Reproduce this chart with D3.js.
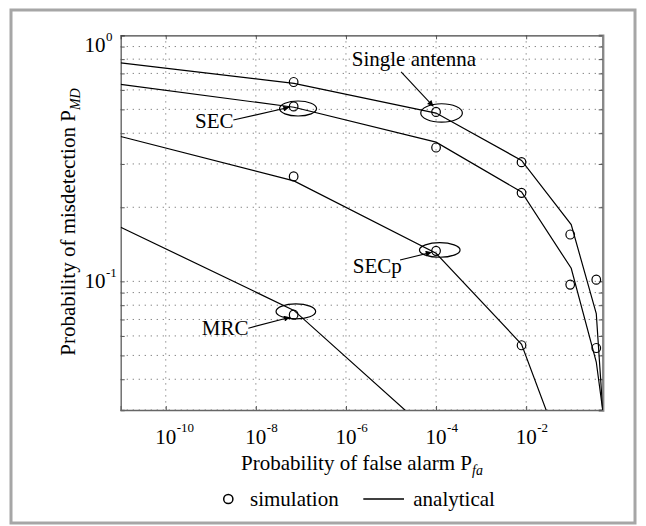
<!DOCTYPE html>
<html><head><meta charset="utf-8">
<script src="https://cdn.jsdelivr.net/npm/d3@7"></script>
<style>
html,body{margin:0;padding:0;background:#fff;}
svg text{font-family:"Liberation Serif","Times New Roman",Times,serif;fill:#000;}
</style></head>
<body><svg id="chart" width="646" height="526" font-family="Liberation Serif, Times New Roman, serif"></svg>
<script>
// ---- data ----
const simX = [6.9e-8, 1e-4, 7.9e-3, 0.095, 0.36];
const singleSimY = [0.646, 0.488, 0.305, 0.155, 0.1016];
const secSimY = [0.514, 0.35, 0.229, 0.097, 0.0536];
const secpSimY = [0.267, 0.133, 0.055];
const mrcSimY = [0.0732];

const anaX = [1e-11, 7e-8, 1e-4, 7.9e-3, 0.1, 0.36, 0.5];
const singleAnaY = [0.772, 0.638, 0.483, 0.310, 0.170, 0.074, 0.03];
const secAnaY = [0.632, 0.510, 0.368, 0.2307, 0.113, 0.047, 0.03];
const secpAnaY = [0.388, 0.256, 0.130, 0.0555, 0.016];
const mrcAnaY = [0.166, 0.0762, 0.0231];

const xTickExps = [-10, -8, -6, -4, -2];
const yTickExps = [0, -1];
const yMinor = [0.03,0.04,0.05,0.06,0.07,0.08,0.09,0.1,0.2,0.3,0.4,0.5,0.6,0.7,0.8,0.9,1];

const seriesNames = ["Single antenna", "SEC", "SECp", "MRC"];
const xLabel = "Probability of false alarm P";
const xLabelSub = "fa";
const yLabel = "Probability of misdetection P";
const yLabelSub = "MD";
const legendSim = "simulation";
const legendAna = "analytical";

// ---- layout ----
const FONT = "Liberation Serif, Times New Roman, serif";
const svg = d3.select("#chart");
const L = 120.7, R = 602.7, T = 35.3, B = 410;
const x = d3.scaleLog().domain([1e-11, 0.5]).range([L, R]);
const y = d3.scaleLog().domain([0.03, 1]).range([B, T]);

function txt(sel) { return sel.attr("font-family", FONT).attr("fill", "#000"); }

// outer frame
svg.append("rect").attr("x", 11).attr("y", 10).attr("width", 624).attr("height", 513)
  .attr("fill", "#fff").attr("stroke", "#a6a6a6").attr("stroke-width", 3);

// clip
svg.append("clipPath").attr("id", "clip").append("rect")
  .attr("x", L).attr("y", T).attr("width", R - L).attr("height", B - T);

// grid
const grid = svg.append("g").attr("stroke", "#777").attr("stroke-width", 1)
  .attr("stroke-dasharray", "1.2,4.8");
yMinor.filter(v => v < 1).forEach(v => {
  grid.append("line").attr("x1", L).attr("x2", R).attr("y1", y(v)).attr("y2", y(v));
});
xTickExps.forEach(e => {
  const v = Math.pow(10, e);
  grid.append("line").attr("x1", x(v)).attr("x2", x(v)).attr("y1", T).attr("y2", B);
});

// axes via d3 axes (inward ticks)
const axL = d3.axisLeft(y).tickValues(yMinor).tickSize(-4).tickFormat("");
const axR = d3.axisRight(y).tickValues(yMinor).tickSize(-4).tickFormat("");
const xVals = xTickExps.map(e => Math.pow(10, e));
const axB = d3.axisBottom(x).tickValues(xVals).tickSize(-4).tickFormat("");
const axT = d3.axisTop(x).tickValues(xVals).tickSize(-4).tickFormat("");
function styleAxis(g, col, w) {
  g.selectAll("path").attr("stroke", col).attr("stroke-width", w);
  g.selectAll("line").attr("stroke", "#555").attr("stroke-width", 1);
}
svg.append("g").attr("transform", `translate(${L},0)`).call(axL).call(g => styleAxis(g, "#666", 1.4));
svg.append("g").attr("transform", `translate(0,${B})`).call(axB).call(g => styleAxis(g, "#666", 1.4));
svg.append("g").attr("transform", `translate(0,${T})`).call(axT).call(g => styleAxis(g, "#444", 1.2));
svg.append("g").attr("transform", `translate(${R},0)`).call(axR).call(g => styleAxis(g, "#888", 2.4));

// tick labels
xTickExps.forEach(e => {
  const px = x(Math.pow(10, e));
  txt(svg.append("text")).attr("x", px).attr("y", 443.5).attr("text-anchor", "middle")
    .attr("font-size", 21).text("10");
  txt(svg.append("text")).attr("x", px + 11).attr("y", 431.5).attr("font-size", 13).text(String(e));
});
yTickExps.forEach(e => {
  const py = Math.max(y(Math.pow(10, e)), 45) + 7;
  txt(svg.append("text")).attr("x", 105.5).attr("y", py).attr("text-anchor", "end")
    .attr("font-size", 21).text("10");
  txt(svg.append("text")).attr("x", 106).attr("y", py - 11).attr("font-size", 13).text(String(e));
});

// axis labels
const xl = txt(svg.append("text")).attr("x", 362).attr("y", 470).attr("text-anchor", "middle")
  .attr("font-size", 21);
xl.append("tspan").text(xLabel);
xl.append("tspan").attr("font-size", 14).attr("font-style", "italic").attr("dy", 5).text(xLabelSub);

const yl = txt(svg.append("text")).attr("transform", "translate(74.5,222) rotate(-90)")
  .attr("text-anchor", "middle").attr("font-size", 21);
yl.append("tspan").text(yLabel);
yl.append("tspan").attr("font-size", 14).attr("font-style", "italic").attr("dy", 5).text(yLabelSub);

// analytical lines
const line = d3.line().x(d => x(d[0])).y(d => y(d[1]));
const plot = svg.append("g").attr("clip-path", "url(#clip)");
[singleAnaY, secAnaY, secpAnaY, mrcAnaY].forEach(arr => {
  const pts = arr.map((v, i) => [anaX[i], v]);
  plot.append("path").attr("d", line(pts)).attr("fill", "none")
    .attr("stroke", "#000").attr("stroke-width", 1.2);
});

// simulation points
[singleSimY, secSimY, secpSimY, mrcSimY].forEach(arr => {
  arr.forEach((v, i) => {
    plot.append("ellipse").attr("cx", x(simX[i])).attr("cy", y(v))
      .attr("rx", 4.3).attr("ry", 4.5).attr("fill", "none")
      .attr("stroke", "#000").attr("stroke-width", 1.2);
  });
});

// annotations (anchored to simulation points, offsets in px)
const defs = svg.append("defs");
defs.append("marker").attr("id", "ah").attr("viewBox", "0 0 10 10").attr("refX", 10).attr("refY", 5)
  .attr("markerWidth", 8).attr("markerHeight", 6).attr("markerUnits", "userSpaceOnUse")
  .attr("orient", "auto").append("path").attr("d", "M0,0 L10,5 L0,10 z").attr("fill", "#000");

const annots = [
  {name: seriesNames[0], ax: simX[1], ay: singleSimY[1], e: [5.5, 1, 20.8, 9.2], t: [-84.3, -45.6], a: [-35, -40, -2.7, -5.6]},
  {name: seriesNames[1], ax: simX[0], ay: secSimY[0], e: [4.4, 2.1, 18.5, 7.5], t: [-98.6, 21.9], a: [-60.3, 13.6, -4.3, 0.9]},
  {name: seriesNames[2], ax: simX[1], ay: secpSimY[1], e: [3.7, -0.9, 20.3, 7.3], t: [-83.3, 22.4], a: [-36, 9.1, -4.3, 1.4]},
  {name: seriesNames[3], ax: simX[0], ay: mrcSimY[0], e: [2.2, -3.3, 19.8, 7.5], t: [-91.9, 20.2], a: [-45.3, 13.5, -3.6, 2.5]}
];
annots.forEach(o => {
  const px = x(o.ax), py = y(o.ay);
  svg.append("ellipse").attr("cx", px + o.e[0]).attr("cy", py + o.e[1]).attr("rx", o.e[2]).attr("ry", o.e[3])
    .attr("fill", "none").attr("stroke", "#000").attr("stroke-width", 1.2);
  svg.append("line").attr("x1", px + o.a[0]).attr("y1", py + o.a[1]).attr("x2", px + o.a[2]).attr("y2", py + o.a[3])
    .attr("stroke", "#000").attr("stroke-width", 1.1).attr("marker-end", "url(#ah)");
  txt(svg.append("text")).attr("x", px + o.t[0]).attr("y", py + o.t[1]).attr("font-size", 21).text(o.name);
});

// legend
svg.append("circle").attr("cx", 228.3).attr("cy", 499).attr("r", 4.6).attr("fill", "none")
  .attr("stroke", "#000").attr("stroke-width", 1.5);
txt(svg.append("text")).attr("x", 250).attr("y", 505.5).attr("font-size", 21).text(legendSim);
svg.append("line").attr("x1", 363.3).attr("x2", 404).attr("y1", 499).attr("y2", 499)
  .attr("stroke", "#000").attr("stroke-width", 1.3);
txt(svg.append("text")).attr("x", 413.3).attr("y", 505.5).attr("font-size", 21).text(legendAna);
</script></body></html>
